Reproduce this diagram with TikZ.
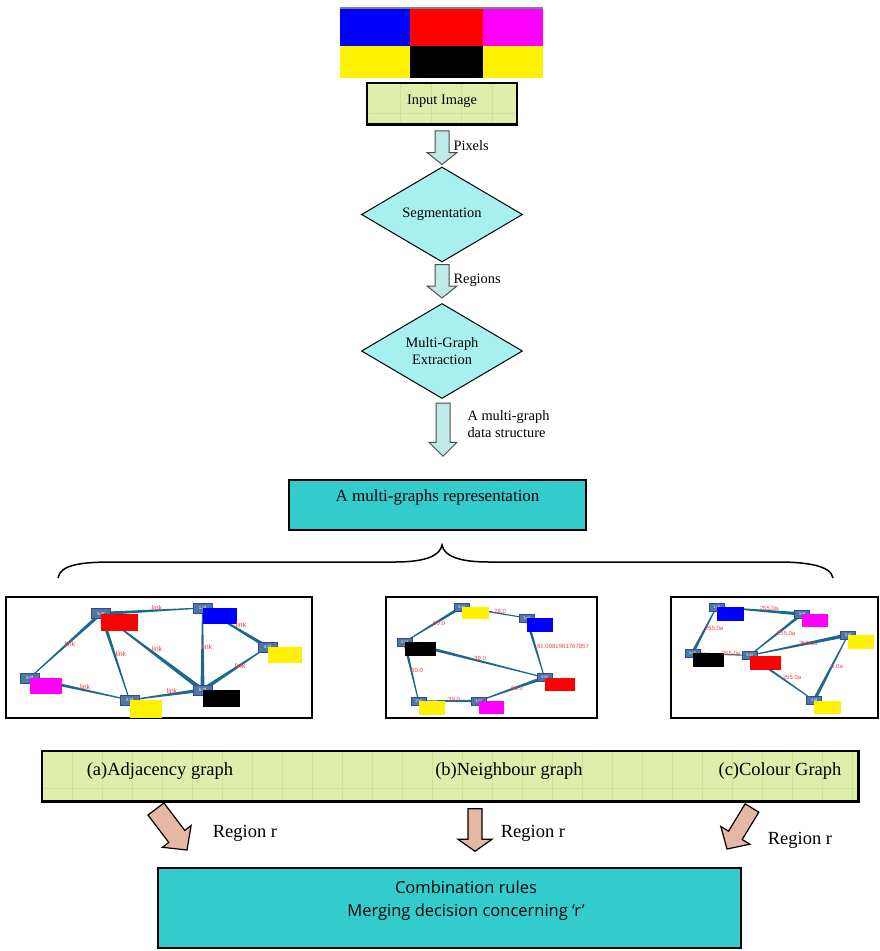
\documentclass[tikz,border=0pt]{standalone}
\usepackage{fontspec}
\setmainfont{Liberation Serif}
\setsansfont{Liberation Sans}
\newfontfamily\rulesfont{Open Sans}
\usetikzlibrary{shapes.geometric,calc,backgrounds}

\definecolor{lime}{RGB}{224,238,172}
\definecolor{limegrid}{RGB}{206,228,146}
\definecolor{aqua}{RGB}{168,240,240}
\definecolor{arrowaqua}{RGB}{190,235,232}
\definecolor{tealbox}{RGB}{51,204,204}
\definecolor{salmon}{RGB}{230,184,164}
\definecolor{tifblue}{RGB}{80,118,162}
\definecolor{tifedge}{RGB}{52,72,150}
\definecolor{linkblue}{RGB}{28,104,142}
\definecolor{linkred}{RGB}{255,60,60}
\definecolor{pinkmag}{RGB}{255,0,255}

% block arrow: style, start, tip, half shaft, half head, head length
\newcommand{\blockarr}[6]{%
  \coordinate (ba-s) at #2;
  \coordinate (ba-e) at #3;
  \coordinate (ba-h) at ($(ba-e)!#6!(ba-s)$);
  \draw[#1] ($(ba-s)!#4!90:(ba-e)$) -- ($(ba-h)!#4!90:(ba-e)$) -- ($(ba-h)!#5!90:(ba-e)$) -- (ba-e)
    -- ($(ba-h)!#5!-90:(ba-e)$) -- ($(ba-h)!#4!-90:(ba-e)$) -- ($(ba-s)!#4!-90:(ba-e)$) -- cycle;}
% tapered graph edge: thin end, thick end, half width
\newcommand{\tedge}[3]{%
  \fill[linkblue] ($(#1)!0.5pt!90:(#2)$) -- ($(#2)!#3pt!-90:(#1)$) -- ($(#2)!#3pt!90:(#1)$) -- ($(#1)!0.5pt!-90:(#2)$) -- cycle;}

\begin{document}
\begin{tikzpicture}[x=1pt,y=-1pt,
  flow/.style={font=\fontsize{14.4}{17}\selectfont},
  big/.style={font=\fontsize{18.5}{21}\selectfont},
  limebox/.style={draw,line width=1.5pt,fill=lime,inner sep=0pt},
  decide/.style={diamond,draw,line width=1pt,fill=aqua,aspect=1.7,inner sep=0pt,
    minimum width=161pt,minimum height=95pt,align=center,flow},
  teal/.style={draw,line width=1.5pt,fill=tealbox,inner sep=0pt},
  toparrow/.style={draw=black!70,line width=1pt,fill=arrowaqua},
  botarrow/.style={draw,line width=1.2pt,fill=salmon},
  gridline/.style={limegrid,line width=0.5pt},
  frame/.style={draw,line width=2pt},
  tifa/.style={draw=tifedge,line width=0.8pt,fill=tifblue,text=white,inner sep=0pt,
    minimum width=19pt,minimum height=10pt,font=\fontsize{4.5}{5}\sffamily},
  tifb/.style={tifa,minimum width=15pt,minimum height=8pt,font=\fontsize{4}{4}\sffamily},
  lbl/.style={text=linkred,inner sep=0pt,font=\fontsize{6}{6}\sffamily},
  link/.style={lbl,font=\fontsize{7}{7}\sffamily}]
\useasboundingbox (0,0) rectangle (879,951);

% input image
\fill[black!50] (340,7) rectangle (543,9);
\fill[blue] (340,9) rectangle (410,46);
\fill[red] (410,9) rectangle (483,46);
\fill[pinkmag] (483,9) rectangle (543,46);
\fill[yellow] (340,46) rectangle (410,78);
\fill[black] (410,46) rectangle (483,78);
\fill[yellow] (483,46) rectangle (543,78);

\node[limebox,minimum width=149pt,minimum height=41pt] (input) at (442,103.5) {};
\begin{scope}
\clip (368.5,84) rectangle (515.5,123);
\foreach \gx in {400,431,461,492} \draw[gridline] (\gx,84) -- (\gx,123);
\draw[gridline] (368.5,113) -- (515.5,113);
\end{scope}
\draw[line width=1.5pt] (input.north west) rectangle (input.south east);
\node[flow] (inputtxt) at (442,101) {Input Image};

\node[decide] (seg) at (442,214.5) {Segmentation};
\node[decide] (mge) at (442,351) {Multi-Graph\\Extraction};

\blockarr{toparrow}{($(input.south)+(0,6)$)}{($(input.south |- seg.north)+(0,-2)$)}{7pt}{15pt}{12pt}
\node[flow,anchor=west] (pix) at (450,146) {Pixels};
\blockarr{toparrow}{($(seg.south)+(0,2)$)}{($(seg.south |- mge.north)+(0,-5)$)}{7pt}{15pt}{12pt}
\node[flow,anchor=west] (reg) at (450,280) {Regions};

\node[teal,minimum width=297pt,minimum height=50pt,text depth=18pt,
  font=\fontsize{17}{19}\selectfont] (rep) at (437.5,505) {A multi-graphs representation};
\blockarr{toparrow}{($(mge.south)+(1,4)$)}{($(mge.south |- rep.north)+(1,-23)$)}{7pt}{14pt}{14pt}
\node[flow,anchor=west,align=left] (mgs) at (464,424) {A multi-graph\\data structure};

% brace
\draw[line width=1.5pt] (58,578) .. controls (60,565) and (80,562) .. (113,562) -- (395,562)
  .. controls (425,562) and (440,556) .. (442,545) .. controls (444,556) and (459,562) .. (489,562)
  -- (778,562) .. controls (804,562) and (831,565) .. (833,578);

% adjacency graph
\draw[frame] (6,597) rectangle (312,718);
\node[tifa] (a5) at (101,613.5) {5.tif};
\node[tifa] (a1) at (202.5,608) {1.tif};
\node[tifa] (a4) at (267.5,647) {4.tif};
\node[tifa] (a3) at (29.5,678) {3.tif};
\node[tifa] (a2) at (129.5,700) {2.tif};
\node[tifa] (a6) at (202.5,690) {6.tif};
\fill[red] (a5.center) rectangle +(37,17);
\fill[blue] (a1.center) rectangle +(34,16);
\fill[yellow] (a4.center) rectangle +(34,16);
\fill[pinkmag] (a3.center) rectangle +(32,16);
\fill[yellow] (a2.center) rectangle +(32,18);
\fill[black] (a6.center) rectangle +(37,17);
\begin{scope}[on background layer]
\tedge{a1}{a5}{1.7}
\tedge{a3}{a5}{1.7}
\tedge{a2}{a5}{1.8}
\tedge{a5}{a6}{2.2}
\tedge{a1}{a6}{2}
\tedge{a1}{a4}{1.8}
\tedge{a4}{a6}{2}
\tedge{a2}{a3}{1.8}
\tedge{a2}{a6}{1.8}
\end{scope}
\node[link] (l1) at (157,608) {link};
\node[link] (l2) at (70,644) {link};
\node[link] (l3) at (121,654) {link};
\node[link] (l4) at (157,649) {link};
\node[link] (l5) at (207,647) {link};
\node[link] (l6) at (241,625) {link};
\node[link] (l7) at (240,666) {link};
\node[link] (l8) at (85,687) {link};
\node[link] (l9) at (172,691) {link};

% neighbour graph
\draw[frame] (386,597) rectangle (597,718);
\node[tifb] (b4) at (461.5,607) {4.tif};
\node[tifb] (b3) at (526.5,618) {3.tif};
\node[tifb] (b6) at (404.5,642) {6.tif};
\node[tifb] (b5) at (544.5,677.5) {5.tif};
\node[tifb] (b2) at (418.5,701) {2.tif};
\node[tifb] (b1) at (478.5,701) {1.tif};
\fill[yellow] (b4.center) rectangle +(27,12);
\fill[blue] (b3.center) rectangle +(26,14);
\fill[black] (b6.center) rectangle +(31,14);
\fill[red] (b5.center) rectangle +(30,13);
\fill[yellow] (b2.center) rectangle +(26,14);
\fill[pinkmag] (b1.center) rectangle +(25,13);
\begin{scope}[on background layer]
\tedge{b6}{b4}{1.5}
\tedge{b3}{b4}{0.9}
\tedge{b5}{b3}{1.5}
\tedge{b5}{b6}{1.7}
\tedge{b2}{b6}{1.4}
\tedge{b2}{b1}{1.3}
\tedge{b1}{b5}{1.7}
\end{scope}
\node[lbl] (m1) at (439,623) {60.0};
\node[lbl] (m2) at (500,611) {28.0};
\node[lbl] (m3) at (563,646) {61.0081961767857};
\node[lbl] (m4) at (480,658) {39.0};
\node[lbl] (m5) at (417,670) {60.0};
\node[lbl] (m6) at (454,699) {39.0};
\node[lbl] (m7) at (517,688) {60.0};

% colour graph
\draw[frame] (671,597) rectangle (878,718);
\node[tifb] (c1) at (716.5,607) {1.tif};
\node[tifb] (c3) at (802,614) {3.tif};
\node[tifb] (c2) at (848,635) {2.tif};
\node[tifb] (c6) at (692.5,653) {6.tif};
\node[tifb] (c5) at (749.5,655.5) {5.tif};
\node[tifb] (c4) at (814,700.5) {4.tif};
\fill[blue] (c1.center) rectangle +(27,14);
\fill[pinkmag] (c3.center) rectangle +(26,13);
\fill[yellow] (c2.center) rectangle +(26,14);
\fill[black] (c6.center) rectangle +(31,14);
\fill[red] (c5.center) rectangle +(31,14);
\fill[yellow] (c4.center) rectangle +(27,13);
\begin{scope}[on background layer]
\tedge{c1}{c3}{1.7}
\tedge{c1}{c6}{1.6}
\tedge{c5}{c6}{0.9}
\tedge{c5}{c3}{1.5}
\tedge{c5}{c2}{1.9}
\tedge{c4}{c5}{1.3}
\tedge{c2}{c4}{1.7}
\end{scope}
\node[lbl] (k1) at (769,608) {255.0a};
\node[lbl] (k2) at (714,628) {255.0a};
\node[lbl] (k3) at (731,653) {255.0a};
\node[lbl] (k4) at (786,633) {255.0a};
\node[lbl] (k5) at (808,643) {255.0a};
\node[lbl] (k6) at (792,677) {255.0a};
\node[lbl] (k7) at (837,666) {0.0a};

% graph names
\node[limebox,minimum width=816pt,minimum height=50pt] (bar) at (450,776) {};
\begin{scope}
\clip (43,752) rectangle (857,800);
\foreach \gx in {72,102,...,852} \draw[gridline] (\gx,752) -- (\gx,800);
\draw[gridline] (43,788) -- (857,788);
\end{scope}
\draw[line width=1.5pt] (bar.north west) rectangle (bar.south east);
\node[big] (ga) at (160,771) {(a)Adjacency graph};
\node[big] (gb) at (509,771) {(b)Neighbour graph};
\node[big] (gc) at (780,771) {(c)Colour Graph};

% combination
\node[teal,minimum width=583pt,minimum height=80pt] (rules) at (449.5,908) {};
\node[font=\rulesfont\fontsize{16.5}{23}\selectfont,align=center] (rulestxt) at (466,901)
  {Combination rules\\Merging decision concerning ‘r’};

\blockarr{botarrow}{(156,809)}{(187,850)}{10pt}{18pt}{17pt}
\blockarr{botarrow}{($(bar.south)+(25,7)$)}{($(bar.south |- rules.north)+(25,-16)$)}{7pt}{17pt}{12pt}
\blockarr{botarrow}{(752,808)}{(727,849)}{8pt}{17pt}{16pt}
\node[big] (r1) at (245,833) {Region r};
\node[big] (r2) at (533,833) {Region r};
\node[big] (r3) at (800,840) {Region r};
\end{tikzpicture}
\end{document}
